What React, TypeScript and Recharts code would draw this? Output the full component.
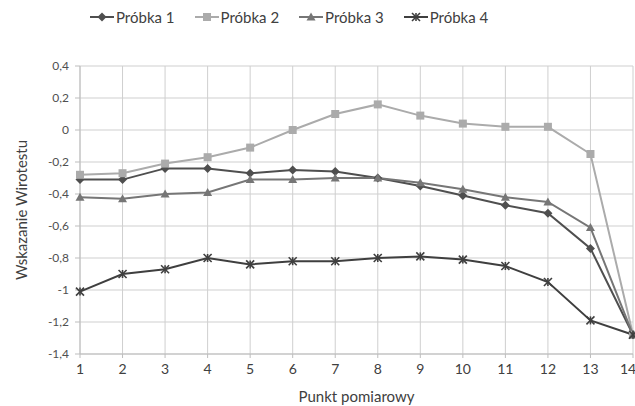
import React from "react";
import {
  LineChart,
  Line,
  XAxis,
  YAxis,
  CartesianGrid,
  Legend,
} from "recharts";

const points = [1, 2, 3, 4, 5, 6, 7, 8, 9, 10, 11, 12, 13, 14];
const probka1 = [-0.31, -0.31, -0.24, -0.24, -0.27, -0.25, -0.26, -0.3, -0.35, -0.41, -0.47, -0.52, -0.74, -1.28];
const probka2 = [-0.28, -0.27, -0.21, -0.17, -0.11, 0, 0.1, 0.16, 0.09, 0.04, 0.02, 0.02, -0.15, -1.28];
const probka3 = [-0.42, -0.43, -0.4, -0.39, -0.31, -0.31, -0.3, -0.3, -0.33, -0.37, -0.42, -0.45, -0.61, -1.28];
const probka4 = [-1.01, -0.9, -0.87, -0.8, -0.84, -0.82, -0.82, -0.8, -0.79, -0.81, -0.85, -0.95, -1.19, -1.28];
const yTicks = [0.4, 0.2, 0, -0.2, -0.4, -0.6, -0.8, -1, -1.2, -1.4];

const data = points.map((p, i) => ({
  x: p,
  p1: probka1[i],
  p2: probka2[i],
  p3: probka3[i],
  p4: probka4[i],
}));

const FONT = "Lato, 'Open Sans', sans-serif";
const C1 = "#4f4f4f";
const C2 = "#ababab";
const C3 = "#767676";
const C4 = "#3f3f3f";

function Marker({ kind, cx, cy, color }: { kind: string; cx: number; cy: number; color: string }) {
  if (kind === "diamond") {
    return <path d={`M${cx},${cy - 4.5}L${cx + 4.5},${cy}L${cx},${cy + 4.5}L${cx - 4.5},${cy}Z`} fill={color} />;
  }
  if (kind === "square") {
    return <rect x={cx - 4} y={cy - 4} width={8} height={8} fill={color} />;
  }
  if (kind === "triangle") {
    return <path d={`M${cx},${cy - 4.5}L${cx + 4.5},${cy + 3.5}L${cx - 4.5},${cy + 3.5}Z`} fill={color} />;
  }
  return (
    <g stroke={color} strokeWidth={1.6}>
      <line x1={cx - 4} y1={cy - 4} x2={cx + 4} y2={cy + 4} />
      <line x1={cx - 4} y1={cy + 4} x2={cx + 4} y2={cy - 4} />
      <line x1={cx} y1={cy - 4} x2={cx} y2={cy + 4} />
    </g>
  );
}

const dotFor = (kind: string, color: string) => (props: any) => {
  const { cx, cy, index } = props;
  return <Marker key={`${kind}-${index}`} kind={kind} cx={cx} cy={cy} color={color} />;
};

const legendItems = [
  { label: "Próbka 1", kind: "diamond", color: C1 },
  { label: "Próbka 2", kind: "square", color: C2 },
  { label: "Próbka 3", kind: "triangle", color: C3 },
  { label: "Próbka 4", kind: "x", color: C4 },
];

function LegendContent() {
  return (
    <div style={{ display: "flex", gap: 20, fontFamily: FONT, fontSize: 15, color: "#404040" }}>
      {legendItems.map((it) => (
        <div key={it.label} style={{ display: "flex", alignItems: "center" }}>
          <svg width={24} height={12}>
            <line x1={0} y1={6} x2={24} y2={6} stroke={it.color} strokeWidth={2} />
            <Marker kind={it.kind} cx={12} cy={6} color={it.color} />
          </svg>
          <span style={{ marginLeft: 2 }}>{it.label}</span>
        </div>
      ))}
    </div>
  );
}

const fmt = (v: number) => String(Math.round(v * 10) / 10).replace(".", ",");

export default function App() {
  return (
    <div style={{ position: "absolute", left: 0, top: 0, background: "#fff" }}>
      <LineChart width={635} height={406} data={data} margin={{ top: 48, right: 2, bottom: 0, left: 0 }}>
        <CartesianGrid stroke="#cfcfcf" strokeWidth={1} />
        <XAxis
          dataKey="x"
          type="number"
          domain={[1, 14]}
          ticks={points}
          height={52}
          stroke="#bdbdbd"
          tickLine={{ stroke: "#bdbdbd" }}
          tickSize={4}
          tickMargin={6}
          tick={{ fontSize: 14, fill: "#404040", fontFamily: FONT }}
          label={{ value: "Punkt pomiarowy", position: "insideBottom", offset: 4, fontSize: 15, fill: "#404040", fontFamily: FONT }}
        />
        <YAxis
          type="number"
          domain={[-1.4, 0.4]}
          ticks={yTicks}
          width={80}
          stroke="#bdbdbd"
          tickLine={{ stroke: "#bdbdbd" }}
          tickSize={5}
          tickMargin={6}
          tickFormatter={fmt}
          tick={{ fontSize: 12, fill: "#505050", fontFamily: FONT }}
          label={{ value: "Wskazanie Wirotestu", angle: -90, position: "insideLeft", offset: 22, dy: 0, fontSize: 15, fill: "#404040", fontFamily: FONT, textAnchor: "middle" }}
        />
        <Legend
          verticalAlign="top"
          content={() => <LegendContent />}
          wrapperStyle={{ top: 8, left: 90, width: "auto" }}
        />
        <Line dataKey="p1" stroke={C1} strokeWidth={2} dot={dotFor("diamond", C1)} isAnimationActive={false} />
        <Line dataKey="p2" stroke={C2} strokeWidth={2} dot={dotFor("square", C2)} isAnimationActive={false} />
        <Line dataKey="p3" stroke={C3} strokeWidth={2} dot={dotFor("triangle", C3)} isAnimationActive={false} />
        <Line dataKey="p4" stroke={C4} strokeWidth={2} dot={dotFor("x", C4)} isAnimationActive={false} />
      </LineChart>
    </div>
  );
}
